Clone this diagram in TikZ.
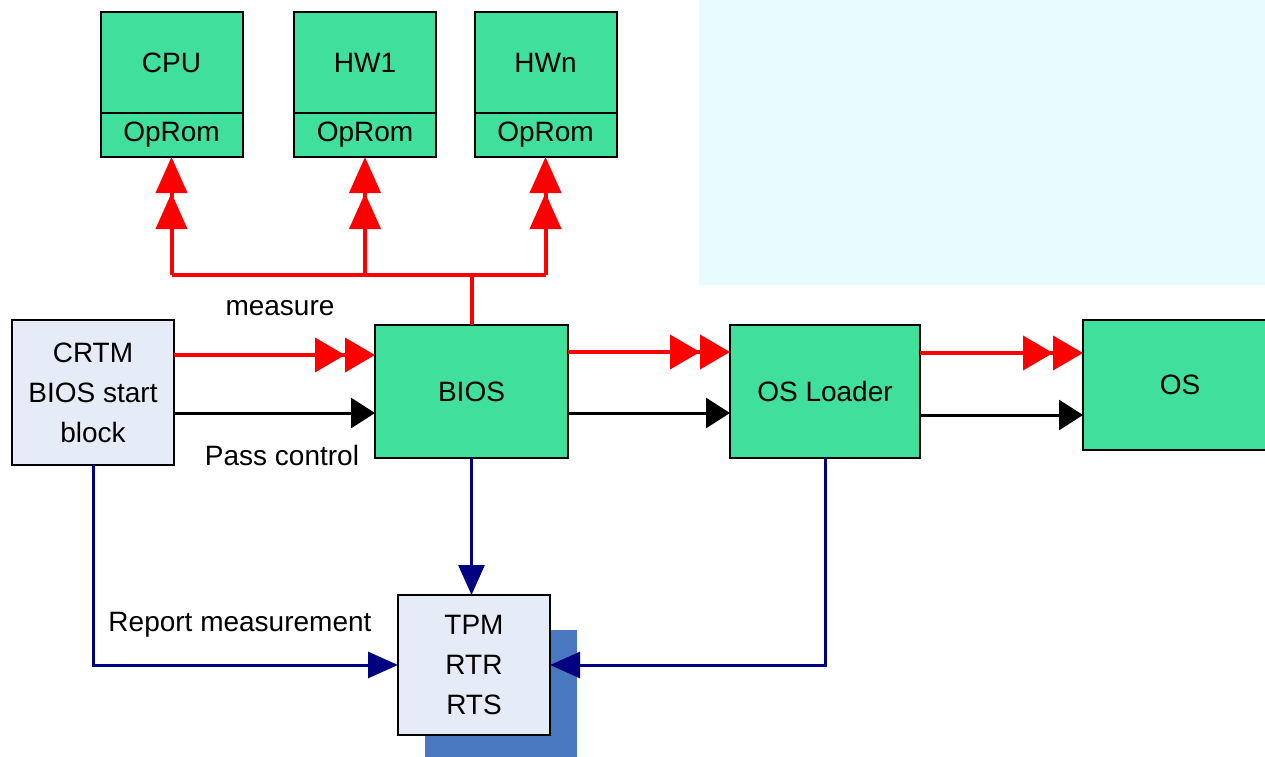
\documentclass[tikz,border=0pt]{standalone}
\usepackage{fontspec}
\setmainfont{Liberation Sans}
\usepackage{tikz}
\usetikzlibrary{arrows.meta,positioning,shadows}
\definecolor{bootgreen}{RGB}{64,224,156}
\definecolor{rtmgray}{RGB}{230,236,247}
\definecolor{tpmshade}{RGB}{74,120,192}
\definecolor{repnavy}{RGB}{0,0,128}
\definecolor{bgcyan}{RGB}{232,252,254}

\begin{document}
\begin{tikzpicture}[
    x=0.5pt, y=-0.5pt,
    font=\fontsize{14pt}{20pt}\selectfont,
    stage/.style={rectangle, draw, line width=1pt, fill=bootgreen, minimum width=96.5pt, minimum height=66.5pt, inner sep=0pt, outer sep=0pt, align=center},
    rtm/.style={rectangle, draw, line width=1pt, fill=rtmgray, inner sep=0pt, outer sep=0pt, align=center},
    hwbox/.style={stage, minimum width=71pt, minimum height=50.5pt},
    rombox/.style={stage, minimum width=71pt, minimum height=22pt},
    measline/.style={red, line width=2pt},
    measup/.style={measline, -{Triangle[length=18pt,width=15.5pt] Triangle[length=18pt,width=15.5pt]}},
    measarrow/.style={measline, -{Triangle[length=15pt,width=17pt] Triangle[length=15pt,width=17pt]}},
    passarrow/.style={black, line width=1.5pt, -{Triangle[length=12pt,width=15pt]}},
    reparrow/.style={repnavy, line width=1.5pt, -{Triangle[length=15pt,width=13pt]}}
]

\useasboundingbox (0,0) rectangle (1265,756);
\fill[bgcyan] (699,0) rectangle (1265,285);

\node[rtm, minimum width=81pt, minimum height=72.5pt] (crtm) at (93,392.5) {CRTM\\BIOS start\\block};
\node[stage, right=100.5pt of crtm, yshift=0.5pt] (bios) {BIOS};
\node[stage, minimum width=95pt, right=81pt of bios] (osl) {OS Loader};
\node[stage, minimum width=97pt, minimum height=65pt, right=81.5pt of osl, yshift=3.25pt] (os) {OS};
\node[rtm, minimum width=76pt, minimum height=70pt, below=68.5pt of bios, xshift=1.25pt,
    copy shadow={shadow xshift=13.5pt, shadow yshift=-17.5pt, fill=tpmshade, draw=none}] (tpm) {TPM\\RTR\\RTS};

\node[hwbox] (cpu) at (171.5,62.5) {CPU};
\node[rombox, below=0pt of cpu] (cpurom) {OpRom};
\node[hwbox] (hwone) at (365,62.5) {HW1};
\node[rombox, below=0pt of hwone] (hwonerom) {OpRom};
\node[hwbox] (hwn) at (545.5,62.5) {HWn};
\node[rombox, below=0pt of hwn] (hwnrom) {OpRom};

\node (measlbl) at (280,308) {measure};
\node (passlbl) at (282,455) {Pass control};
\node (replbl) at (240,625) {Report measurement};

% measure chain
\coordinate (crtmmeas) at ([yshift=18.75pt]crtm.east);
\coordinate (biosmeas) at ([yshift=19.75pt]bios.east);
\coordinate (oslmeas) at ([yshift=19.25pt]osl.east);
\draw[measarrow] (crtmmeas) -- (crtmmeas -| bios.west);
\draw[measarrow] (biosmeas) -- (biosmeas -| osl.west);
\draw[measarrow] (oslmeas) -- (oslmeas -| os.west);

\coordinate (fork) at ([yshift=25pt]bios.north);
\draw[measline] (bios.north) -- (fork);
\draw[measline] (cpurom.south |- fork) -- (hwnrom.south |- fork);
\draw[measup] (cpurom.south |- fork) -- (cpurom.south);
\draw[measup] (hwonerom.south |- fork) -- (hwonerom.south);
\draw[measup] (hwnrom.south |- fork) -- (hwnrom.south);

% pass control
\coordinate (crtmpass) at ([yshift=-10.25pt]crtm.east);
\coordinate (biospass) at ([yshift=-10.75pt]bios.east);
\coordinate (oslpass) at ([yshift=-11.75pt]osl.east);
\draw[passarrow] (crtmpass) -- (crtmpass -| bios.west);
\draw[passarrow] (biospass) -- (biospass -| osl.west);
\draw[passarrow] (oslpass) -- (oslpass -| os.west);

% report to TPM
\draw[reparrow] (crtm.south) |- (tpm.west);
\draw[reparrow] (bios.south) -- (bios.south |- tpm.north);
\draw[reparrow] (osl.south) |- (tpm.east);

\end{tikzpicture}
\end{document}
